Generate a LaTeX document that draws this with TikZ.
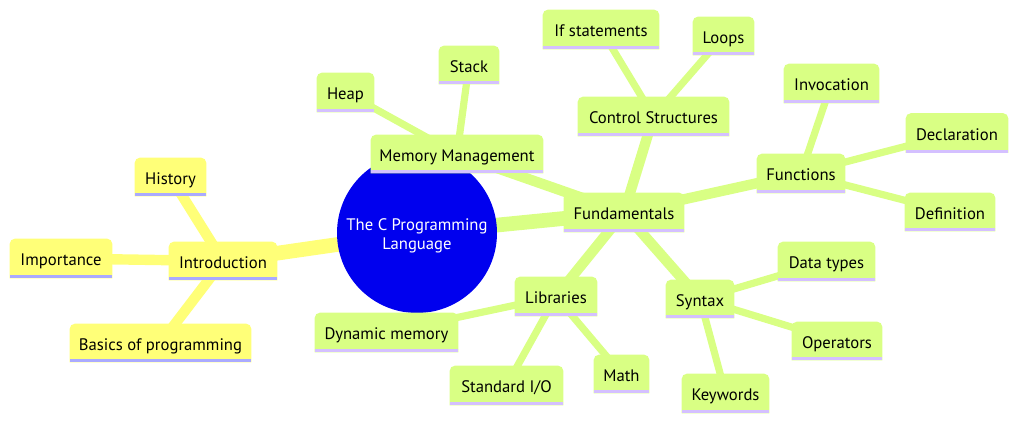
\documentclass[tikz,border=0pt]{standalone}
\usepackage{fontspec}
\setmainfont{PT Sans}
\pgfdeclarelayer{edges}
\pgfdeclarelayer{shapes}
\pgfsetlayers{edges,shapes,main}
\definecolor{ylw}{HTML}{FFFF78}
\definecolor{ylwline}{HTML}{AAAAFF}
\definecolor{grn}{HTML}{D9FF84}
\definecolor{grnline}{HTML}{D4C0FF}
\definecolor{rootblue}{HTML}{0000EE}
\newcommand\mmshape[3]{%
  \fill[#2] (#1.south west) [rounded corners=3.75pt] -- (#1.north west) -- (#1.north east) [sharp corners] -- (#1.south east) -- cycle;
  \fill[#3] (#1.south west) rectangle ([yshift=2.4pt]#1.south east);
}
\tikzset{
  box/.style 2 args={minimum width=#1*0.75pt, minimum height=#2*0.75pt, inner sep=0pt,
    text height=11pt, text depth=0pt,
    font=\fontsize{12.5}{14}\selectfont, text=black, anchor=center},
  rootnode/.style={circle, minimum size=120pt, inner sep=0pt},
  roottext/.style={inner sep=0pt, text=white, align=center,
    font=\fontsize{12.5}{13.8}\selectfont},
  edgeA/.style={line width=11pt},
  edgeB/.style={line width=7.8pt},
  edgeC/.style={line width=5.4pt},
}
\begin{document}
\begin{tikzpicture}[x=0.75pt,y=-0.75pt]
\useasboundingbox (0,0) rectangle (1018,422);
% nodes (text)
\node[rootnode] (root) at (417,233) {};
\node[roottext] (rootlabel) at (417,236) {The C Programming\\Language};
\node[box={108}{38}] (intro) at (223,261) {Introduction};
\node[box={71}{38}] (history) at (170.5,177) {History};
\node[box={102}{39}] (importance) at (61,258.5) {Importance};
\node[box={181}{38}] (basics) at (160.5,343) {Basics of programming};
\node[box={120}{39}] (fund) at (624,212.5) {Fundamentals};
\node[box={172}{38}] (mem) at (457,154) {Memory Management};
\node[box={57}{39}] (heap) at (345.5,92.5) {Heap};
\node[box={60}{38}] (stack) at (469,65) {Stack};
\node[box={151}{39}] (ctrl) at (653.5,116.5) {Control Structures};
\node[box={116}{39}] (ifst) at (601,29.5) {If statements};
\node[box={61}{38}] (loops) at (723.5,36) {Loops};
\node[box={88}{39}] (func) at (801,173.5) {Functions};
\node[box={95}{39}] (invoc) at (831.5,83.5) {Invocation};
\node[box={102}{39}] (decl) at (957,133) {Declaration};
\node[box={90}{38}] (defn) at (950,212) {Definition};
\node[box={82}{39}] (lib) at (556,296.5) {Libraries};
\node[box={143}{39}] (dyn) at (386.5,332.5) {Dynamic memory};
\node[box={113}{39}] (stdio) at (506.5,385.5) {Standard I/O};
\node[box={55}{38}] (math) at (621.5,374) {Math};
\node[box={68}{38}] (syntax) at (700,299) {Syntax};
\node[box={97}{39}] (dtypes) at (826.5,261.5) {Data types};
\node[box={90}{38}] (ops) at (837,341) {Operators};
\node[box={87}{39}] (kw) at (725.5,393.5) {Keywords};
% edges
\begin{pgfonlayer}{edges}
  \draw[edgeA,ylw] (root.center) -- (intro.center);
  \draw[edgeA,grn] (root.center) -- (fund.center);
  \foreach \c in {history,importance,basics} \draw[edgeB,ylw] (intro.center) -- (\c.center);
  \foreach \c in {mem,ctrl,func,lib,syntax} \draw[edgeB,grn] (fund.center) -- (\c.center);
  \foreach \c in {heap,stack} \draw[edgeC,grn] (mem.center) -- (\c.center);
  \foreach \c in {ifst,loops} \draw[edgeC,grn] (ctrl.center) -- (\c.center);
  \foreach \c in {invoc,decl,defn} \draw[edgeC,grn] (func.center) -- (\c.center);
  \foreach \c in {dyn,stdio,math} \draw[edgeC,grn] (lib.center) -- (\c.center);
  \foreach \c in {dtypes,ops,kw} \draw[edgeC,grn] (syntax.center) -- (\c.center);
\end{pgfonlayer}
% shapes
\begin{pgfonlayer}{shapes}
  \fill[rootblue] (root.center) circle[radius=60pt];
  \foreach \n in {intro,history,importance,basics} {\mmshape{\n}{ylw}{ylwline}}
  \foreach \n in {fund,mem,heap,stack,ctrl,ifst,loops,func,invoc,decl,defn,lib,dyn,stdio,math,syntax,dtypes,ops,kw} {\mmshape{\n}{grn}{grnline}}
\end{pgfonlayer}
\end{tikzpicture}
\end{document}
